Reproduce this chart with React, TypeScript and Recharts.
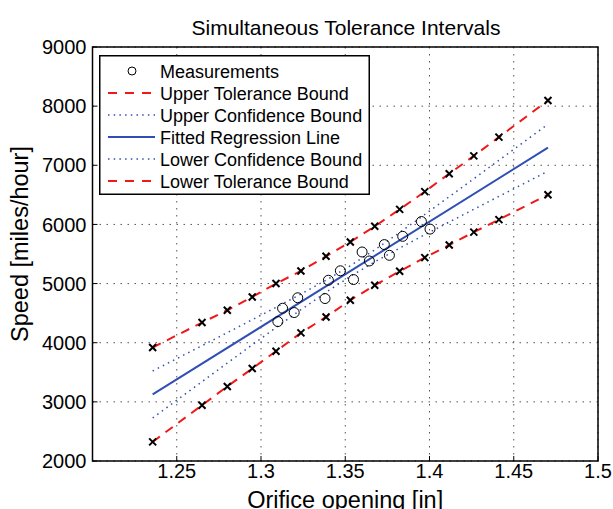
import {
  ComposedChart,
  Line,
  Scatter,
  XAxis,
  YAxis,
  CartesianGrid,
  Legend,
  ReferenceArea,
} from "recharts";

document.body.style.margin = "0";

const FONT = '"Liberation Sans", Arial, Helvetica, sans-serif';

const xTicks = [1.25, 1.3, 1.35, 1.4, 1.45, 1.5];
const yTicks = [2000, 3000, 4000, 5000, 6000, 7000, 8000, 9000];

// bound curves, sampled where the tolerance crosses sit
const boundX = [1.2357, 1.265, 1.28, 1.2948, 1.3089, 1.3237, 1.3386, 1.353, 1.3675, 1.3823, 1.3972, 1.4117, 1.4263, 1.4412, 1.4703];
const upperTol = [3919, 4341, 4549, 4774, 5000, 5213, 5461, 5703, 5968, 6255, 6554, 6858, 7159, 7476, 8096];
const lowerTol = [2324, 2944, 3260, 3564, 3856, 4166, 4436, 4718, 4971, 5208, 5439, 5652, 5870, 6081, 6503];
const upperConf = [3522, 3950, 4170, 4388, 4598, 4822, 5057, 5301, 5571, 5864, 6168, 6469, 6772, 7084, 7694];
const lowerConf = [2728, 3342, 3656, 3964, 4256, 4558, 4853, 5121, 5367, 5600, 5826, 6041, 6256, 6474, 6900];

const fitX = [1.2357, 1.4703];
const fitY = [3125, 7297];

const measX = [1.31, 1.3128, 1.3197, 1.3218, 1.338, 1.34, 1.3471, 1.3549, 1.36, 1.3643, 1.3732, 1.3762, 1.3841, 1.3952, 1.4003];
const measY = [4358, 4583, 4510, 4760, 4747, 5056, 5216, 5068, 5534, 5382, 5659, 5478, 5799, 6049, 5921];

const boundData = boundX.map((x, i) => ({
  x,
  upperTol: upperTol[i],
  lowerTol: lowerTol[i],
  upperConf: upperConf[i],
  lowerConf: lowerConf[i],
}));
const fitData = fitX.map((x, i) => ({ x, y: fitY[i] }));
const measData = measX.map((x, i) => ({ x, y: measY[i] }));

const RED = "#f01818";
const BLUE = "#2f4fb4";

function Cross(p: any) {
  const { cx, cy, index } = p;
  if (cx == null || cy == null) return null;
  const s = 3.5;
  return (
    <path
      key={`c-${index}`}
      d={`M${cx - s},${cy - s}L${cx + s},${cy + s}M${cx - s},${cy + s}L${cx + s},${cy - s}`}
      stroke="#000"
      strokeWidth={2}
      fill="none"
    />
  );
}

function Ring(p: any) {
  return <circle cx={p.cx} cy={p.cy} r={5} fill="none" stroke="#000" strokeWidth={1} />;
}

const legendRows = [
  { label: "Measurements", kind: "circle" },
  { label: "Upper Tolerance Bound", kind: "tol" },
  { label: "Upper Confidence Bound", kind: "conf" },
  { label: "Fitted Regression Line", kind: "fit" },
  { label: "Lower Confidence Bound", kind: "conf" },
  { label: "Lower Tolerance Bound", kind: "tol" },
];

function LegendBox() {
  return (
    <svg width={271} height={140} style={{ display: "block" }}>
      <rect x={0.75} y={0.75} width={269.5} height={138.5} fill="#fff" stroke="#000" strokeWidth={1.5} />
      {legendRows.map((r, i) => {
        const y = 16 + i * 22;
        let sym = null;
        if (r.kind === "circle") sym = <circle cx={33} cy={y} r={4} fill="none" stroke="#000" />;
        if (r.kind === "tol") sym = <line x1={9} x2={56} y1={y} y2={y} stroke={RED} strokeWidth={2} strokeDasharray="9 8" />;
        if (r.kind === "conf") sym = <line x1={9} x2={56} y1={y} y2={y} stroke={BLUE} strokeWidth={1.5} strokeDasharray="1.5 4.2" />;
        if (r.kind === "fit") sym = <line x1={9} x2={56} y1={y} y2={y} stroke={BLUE} strokeWidth={2} />;
        return (
          <g key={r.label}>
            {sym}
            <text x={61} y={y + 6.5} fontSize={18} fontFamily={FONT} fill="#000">
              {r.label}
            </text>
          </g>
        );
      })}
    </svg>
  );
}

export default function App() {
  return (
    <div style={{ position: "relative", width: 613, height: 509 }}>
      <ComposedChart
        width={613}
        height={509}
        data={boundData}
        margin={{ top: 47, right: 15, bottom: 0, left: 0 }}
      >
        <CartesianGrid stroke="#555" strokeDasharray="1.5 5.5" />
        <XAxis
          dataKey="x"
          type="number"
          domain={[1.2, 1.5]}
          ticks={xTicks}
          height={48}
          tickSize={-5}
          tickMargin={8}
          axisLine={false}
          tickLine={{ stroke: "#000" }}
          tick={{ fontSize: 20, fill: "#000", fontFamily: FONT }}
          label={{
            value: "Orifice opening [in]",
            position: "insideBottom",
            offset: 1,
            fontSize: 23.5,
            fill: "#000",
            fontFamily: FONT,
          }}
        />
        <XAxis
          xAxisId="top"
          dataKey="x"
          orientation="top"
          type="number"
          domain={[1.2, 1.5]}
          ticks={xTicks}
          height={0}
          tickSize={-5}
          tick={false}
          axisLine={false}
          tickLine={{ stroke: "#000" }}
        />
        <YAxis
          type="number"
          domain={[2000, 9000]}
          ticks={yTicks}
          width={92.5}
          tickSize={-5}
          tickMargin={11}
          axisLine={false}
          tickLine={{ stroke: "#000" }}
          tick={{ fontSize: 20, fill: "#000", fontFamily: FONT }}
          label={{
            content: () => (
              <text
                x={0}
                y={0}
                transform="translate(27.5,244) rotate(-90)"
                textAnchor="middle"
                fontSize={23.5}
                fontFamily={FONT}
                fill="#000"
              >
                Speed [miles/hour]
              </text>
            ),
          }}
        />
        <YAxis
          yAxisId="right"
          orientation="right"
          type="number"
          domain={[2000, 9000]}
          ticks={yTicks}
          width={0}
          tickSize={-5}
          tick={false}
          axisLine={false}
          tickLine={{ stroke: "#000" }}
        />
        <Line dataKey="upperConf" stroke={BLUE} strokeWidth={1.5} strokeDasharray="1.5 4.2" dot={false} isAnimationActive={false} />
        <Line dataKey="lowerConf" stroke={BLUE} strokeWidth={1.5} strokeDasharray="1.5 4.2" dot={false} isAnimationActive={false} />
        <Line data={fitData} dataKey="y" stroke={BLUE} strokeWidth={2} dot={false} isAnimationActive={false} />
        <Line dataKey="upperTol" stroke={RED} strokeWidth={2} strokeDasharray="9 7" dot={Cross} isAnimationActive={false} />
        <Line dataKey="lowerTol" stroke={RED} strokeWidth={2} strokeDasharray="9 7" dot={Cross} isAnimationActive={false} />
        <Scatter data={measData} dataKey="y" shape={Ring} isAnimationActive={false} />
        <ReferenceArea x1={1.2} x2={1.5} y1={2000} y2={9000} fill="none" stroke="#000" strokeWidth={1.5} ifOverflow="visible" />
        <Legend
          content={() => <LegendBox />}
          layout="vertical"
          align="center"
          verticalAlign="middle"
          width={271}
          height={140}
          wrapperStyle={{ left: 99, top: 55, width: 271, height: 140 }}
        />
      </ComposedChart>
      <svg
        width={613}
        height={44}
        style={{ position: "absolute", left: 0, top: 0, pointerEvents: "none" }}
      >
        <text x={346} y={35} textAnchor="middle" fontSize={21} fontFamily={FONT} fill="#000">
          Simultaneous Tolerance Intervals
        </text>
      </svg>
    </div>
  );
}
